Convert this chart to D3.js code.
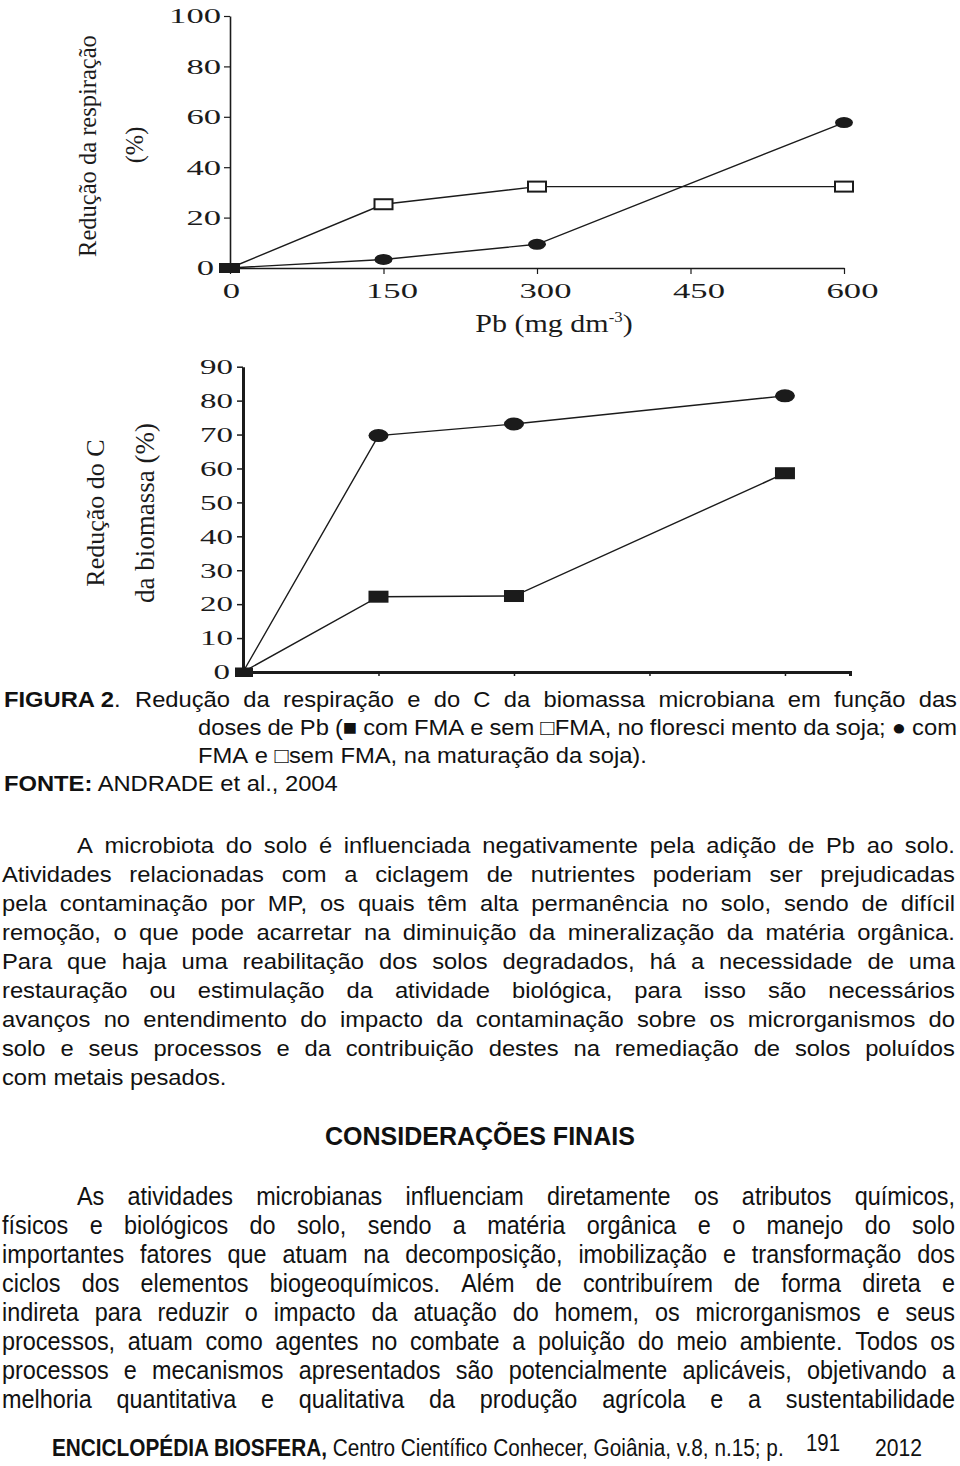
<!DOCTYPE html>
<html><head><meta charset="utf-8">
<script src="https://cdn.jsdelivr.net/npm/d3@7"></script>
<style>body{margin:0;background:#fff} svg{display:block}</style>
</head><body>
<svg id="page" width="960" height="1466"></svg>
<script>
// ---------------- data ----------------
const doses = [0, 150, 300, 600];
const respSemFMA = [0, 25.3, 32.3, 32.3];   // open squares (top chart)
const respComFMA = [0, 3.4, 9.4, 57.7];     // filled circles (top chart)
const bioCircle = [0, 69.7, 73.1, 81.4];    // filled circles (bottom chart)
const bioSquare = [0, 22.2, 22.4, 58.6];    // filled squares (bottom chart)
const topYTicks = [0, 20, 40, 60, 80, 100];
const topXTicks = [0, 150, 300, 450, 600];
const botYTicks = [0, 10, 20, 30, 40, 50, 60, 70, 80, 90];
const botXTicks = [150, 300, 450, 600];

const topYTitle = "Redução da respiração";
const topYUnit = "(%)";
const topXTitle = ["Pb (mg dm", "-3", ")"];
const botYTitle1 = "Redução do C";
const botYTitle2 = "da biomassa (%)";

const captionHead = ["FIGURA 2", "."];
const captionLines = [
  "Redução da respiração e do C da biomassa microbiana em função das",
  "doses de Pb (■ com FMA e sem □FMA, no floresci mento da soja; ● com",
  "FMA e □sem FMA, na maturação da soja)."
];
const sourceLine = ["FONTE:", " ANDRADE et al., 2004"];
const bodyLines = [
  "A microbiota do solo é influenciada negativamente pela adição de Pb ao solo.",
  "Atividades relacionadas com a ciclagem de nutrientes poderiam ser prejudicadas",
  "pela contaminação por MP, os quais têm alta permanência no solo, sendo de difícil",
  "remoção, o que pode acarretar na diminuição da mineralização da matéria orgânica.",
  "Para que haja uma reabilitação dos solos degradados, há a necessidade de uma",
  "restauração ou estimulação da atividade biológica, para isso são necessários",
  "avanços no entendimento do impacto da contaminação sobre os microrganismos do",
  "solo e seus processos e da contribuição destes na remediação de solos poluídos",
  "com metais pesados."
];
const heading = "CONSIDERAÇÕES FINAIS";
const finalLines = [
  "As atividades microbianas influenciam diretamente os atributos químicos,",
  "físicos e biológicos do solo, sendo a matéria orgânica e o manejo do solo",
  "importantes fatores que atuam na decomposição, imobilização e transformação dos",
  "ciclos dos elementos biogeoquímicos. Além de contribuírem de forma direta e",
  "indireta para reduzir o impacto da atuação do homem, os microrganismos e seus",
  "processos, atuam como agentes no combate a poluição do meio ambiente. Todos os",
  "processos e mecanismos apresentados são potencialmente aplicáveis, objetivando a",
  "melhoria quantitativa e qualitativa da produção agrícola e a sustentabilidade"
];
const footerBold = "ENCICLOPÉDIA BIOSFERA,";
const footerRest = " Centro Científico Conhecer, Goiânia, v.8, n.15; p.";
const footerPage = "191";
const footerYear = "2012";

// ---------------- setup ----------------
const svg = d3.select('#page');
const ink = '#1b1b1b';
const textInk = '#111';
const SERIF = "'Liberation Serif', 'Times New Roman', serif";
const SANS = "'Liberation Sans', Arial, Helvetica, sans-serif";
svg.append('rect').attr('width', 960).attr('height', 1466).attr('fill', '#fff');

const pts = (vals) => doses.map((d, i) => ({dose: d, v: vals[i]}));

function styleAxis(g, w) {
  g.select('.domain').attr('stroke', ink).attr('stroke-width', w);
  g.selectAll('.tick line').attr('stroke', ink).attr('stroke-width', Math.max(1.2, w * 0.7));
  g.selectAll('.tick text').attr('font-family', SERIF).attr('font-size', 20).attr('fill', ink)
    .attr('lengthAdjust', 'spacingAndGlyphs');
}

// ---------------- top chart ----------------
const xT = d3.scaleLinear().domain([0, 600]).range([230, 844]);
const yT = d3.scaleLinear().domain([0, 100]).range([268, 16]);
const gT = svg.append('g');

const axXT = gT.append('g').attr('transform', `translate(0,${yT(0)})`)
  .call(d3.axisBottom(xT).tickValues(topXTicks).tickSize(6).tickSizeOuter(0).tickFormat(d3.format('d')));
styleAxis(axXT, 1.6);
axXT.selectAll('.tick text').attr('y', 30).attr('dy', 0)
  .attr('dx', d => d === 0 ? 1 : 8)
  .attr('textLength', d => String(d).length * 17.3);

const axYT = gT.append('g').attr('transform', `translate(${xT(0)},0)`)
  .call(d3.axisLeft(yT).tickValues(topYTicks).tickSize(6).tickSizeOuter(0).tickFormat(d3.format('d')));
styleAxis(axYT, 1.6);
axYT.selectAll('.tick text').attr('x', d => d === 0 ? -16 : -9).attr('dy', '0.34em')
  .attr('textLength', d => String(d).length * 17.3);

const lineT = d3.line().x(d => xT(d.dose)).y(d => yT(d.v));
[respSemFMA, respComFMA].forEach(s => {
  gT.append('path').datum(pts(s)).attr('d', lineT).attr('fill', 'none')
    .attr('stroke', ink).attr('stroke-width', 1.4);
});
gT.selectAll('rect.os').data(pts(respSemFMA).slice(1)).join('rect').attr('class', 'os')
  .attr('x', d => xT(d.dose) - 9).attr('y', d => yT(d.v) - 5).attr('width', 18).attr('height', 10)
  .attr('fill', '#fff').attr('stroke', ink).attr('stroke-width', 2);
gT.selectAll('ellipse.fc').data(pts(respComFMA).slice(1)).join('ellipse').attr('class', 'fc')
  .attr('cx', d => xT(d.dose)).attr('cy', d => yT(d.v)).attr('rx', 9).attr('ry', 5.5).attr('fill', ink);
gT.selectAll('rect.org').data(pts(respSemFMA).slice(0, 1)).join('rect').attr('class', 'org')
  .attr('x', d => xT(d.dose) - 11).attr('y', d => yT(d.v) - 5).attr('width', 21).attr('height', 10).attr('fill', ink);

// titles
gT.append('text').attr('transform', 'translate(96,146) rotate(-90)').attr('text-anchor', 'middle')
  .attr('font-family', SERIF).attr('font-size', 24.5).attr('fill', ink).text(topYTitle);
gT.append('text').attr('transform', 'translate(143,145) rotate(-90)').attr('text-anchor', 'middle')
  .attr('font-family', SERIF).attr('font-size', 24.5).attr('fill', ink).text(topYUnit);
const xt = gT.append('text').attr('transform', 'translate(554,332) scale(1.2,1)').attr('text-anchor', 'middle')
  .attr('font-family', SERIF).attr('font-size', 25).attr('fill', ink);
xt.append('tspan').text(topXTitle[0]);
xt.append('tspan').attr('font-size', 14).attr('dy', -10).text(topXTitle[1]);
xt.append('tspan').attr('dy', 10).text(topXTitle[2]);

// ---------------- bottom chart ----------------
const xB = d3.scaleLinear().domain([0, 672]).range([243, 850]);
const yB = d3.scaleLinear().domain([0, 90]).range([672, 366.7]);
const gB = svg.append('g');

const axXB = gB.append('g').attr('transform', `translate(0,${yB(0)})`)
  .call(d3.axisBottom(xB).tickValues(botXTicks).tickSize(4).tickSizeOuter(4).tickFormat(''));
styleAxis(axXB, 3);
axXB.selectAll('.tick line').attr('stroke-width', 1.5);

const axYB = gB.append('g').attr('transform', `translate(${xB(0)},0)`)
  .call(d3.axisLeft(yB).tickValues(botYTicks).tickSize(6).tickSizeOuter(0).tickFormat(d3.format('d')));
styleAxis(axYB, 3);
axYB.selectAll('.tick line').attr('stroke-width', 1.5);
axYB.selectAll('.tick text').attr('x', d => d === 0 ? -13 : -10).attr('dy', '0.34em')
  .attr('textLength', d => String(d).length * 16.5);

const lineB = d3.line().x(d => xB(d.dose)).y(d => yB(d.v));
[bioCircle, bioSquare].forEach(s => {
  gB.append('path').datum(pts(s)).attr('d', lineB).attr('fill', 'none')
    .attr('stroke', ink).attr('stroke-width', 1.4);
});
gB.selectAll('ellipse.bc').data(pts(bioCircle).slice(1)).join('ellipse').attr('class', 'bc')
  .attr('cx', d => xB(d.dose)).attr('cy', d => yB(d.v)).attr('rx', 10).attr('ry', 6.5).attr('fill', ink);
gB.selectAll('rect.bs').data(pts(bioSquare).slice(1)).join('rect').attr('class', 'bs')
  .attr('x', d => xB(d.dose) - 10).attr('y', d => yB(d.v) - 6).attr('width', 20).attr('height', 12).attr('fill', ink);
gB.selectAll('rect.borg').data(pts(bioSquare).slice(0, 1)).join('rect').attr('class', 'borg')
  .attr('x', d => xB(d.dose) - 8).attr('y', d => yB(d.v) - 4.5).attr('width', 18).attr('height', 9.5).attr('fill', ink);

gB.append('text').attr('transform', 'translate(104,513) rotate(-90)').attr('text-anchor', 'middle')
  .attr('font-family', SERIF).attr('font-size', 26).attr('fill', ink).text(botYTitle1);
gB.append('text').attr('transform', 'translate(154,513) rotate(-90)').attr('text-anchor', 'middle')
  .attr('font-family', SERIF).attr('font-size', 27).attr('fill', ink).text(botYTitle2);

// ---------------- text helpers ----------------
function placeLine(parent, words, x0, x1, y, o) {
  const size = o.size, sx = o.sx || 1;
  const items = words.map(w => typeof w === 'string' ? {t: w} : w);
  const els = items.map(it => parent.append('text')
    .attr('font-family', SANS).attr('font-size', size * (it.k || 1))
    .attr('font-weight', it.b ? 'bold' : 'normal').attr('fill', textInk).text(it.t));
  const widths = els.map(e => e.node().getComputedTextLength() * sx);
  const total = d3.sum(widths);
  const gap = (o.justify && items.length > 1) ? (x1 - x0 - total) / (items.length - 1) : size * 0.278 * sx;
  let x = x0;
  els.forEach((e, i) => {
    e.attr('transform', `translate(${x},${y}) scale(${sx},1)`);
    x += widths[i] + gap;
  });
}
// scale a text element horizontally so that it spans exactly `width`
function fitText(sel, x, y, width) {
  const w = sel.node().getComputedTextLength();
  sel.attr('transform', `translate(${x},${y}) scale(${width / w},1)`);
  return sel;
}
const toWords = s => s.split(' ').map(w => w === '●' ? {t: w, k: 1.0} : w);

const UP = {size: 22, sx: 1.08};    // upper text block
const LOW = {size: 26, sx: 0.9};    // lower (condensed) text block

const gTxt = svg.append('g');
// caption
const cap = gTxt.append('text').attr('transform', `translate(4,707) scale(${UP.sx},1)`)
  .attr('font-family', SANS).attr('font-size', UP.size).attr('fill', textInk);
cap.append('tspan').attr('font-weight', 'bold').text(captionHead[0]);
cap.append('tspan').text(captionHead[1]);
placeLine(gTxt, toWords(captionLines[0]), 135, 957, 707, {...UP, justify: true});
placeLine(gTxt, toWords(captionLines[1]), 198, 957, 735, {...UP, justify: true});
placeLine(gTxt, toWords(captionLines[2]), 198, 957, 763, {...UP, justify: false});
const src = gTxt.append('text').attr('transform', `translate(4,791) scale(${UP.sx},1)`)
  .attr('font-family', SANS).attr('font-size', UP.size).attr('fill', textInk);
src.append('tspan').attr('font-weight', 'bold').text(sourceLine[0]);
src.append('tspan').text(sourceLine[1]);

// body paragraph
bodyLines.forEach((l, i) => {
  const last = i === bodyLines.length - 1;
  placeLine(gTxt, toWords(l), i === 0 ? 77 : 2, 955, 853 + 29 * i, {...UP, justify: !last});
});

// heading
const hd = gTxt.append('text').attr('font-family', SANS).attr('font-weight', 'bold')
  .attr('font-size', 26).attr('fill', textInk).text(heading);
fitText(hd, 325, 1145, 310);

// final paragraph (condensed)
finalLines.forEach((l, i) => {
  placeLine(gTxt, toWords(l), i === 0 ? 77 : 2, 955, 1205 + 29 * i, {...LOW, justify: true});
});

// footer
const ft = gTxt.append('text').attr('font-family', SANS).attr('font-size', 23).attr('fill', textInk);
ft.append('tspan').attr('font-weight', 'bold').text(footerBold);
ft.append('tspan').text(footerRest);
fitText(ft, 52, 1456, 732);
fitText(gTxt.append('text').attr('font-family', SANS).attr('font-size', 23).attr('fill', textInk).text(footerPage),
  806, 1451, 34);
fitText(gTxt.append('text').attr('font-family', SANS).attr('font-size', 23).attr('fill', textInk).text(footerYear),
  875, 1456, 47);
</script>
</body></html>
